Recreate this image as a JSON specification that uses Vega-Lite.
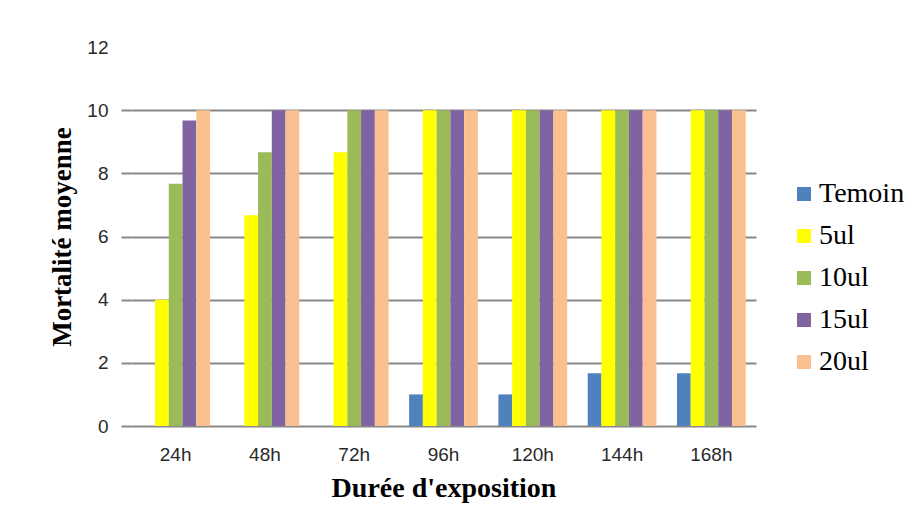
{
  "$schema": "https://vega.github.io/schema/vega-lite/v6.json",
  "width": 625,
  "height": 379,
  "autosize": {"type": "none"},
  "padding": {"left": 131, "top": 47, "right": 156, "bottom": 106},
  "background": "white",
  "data": {
    "values": [
      {"duree": "24h", "serie": "Temoin", "mortalite": 0},
      {"duree": "24h", "serie": "5ul", "mortalite": 4},
      {"duree": "24h", "serie": "10ul", "mortalite": 7.67},
      {"duree": "24h", "serie": "15ul", "mortalite": 9.67},
      {"duree": "24h", "serie": "20ul", "mortalite": 10},
      {"duree": "48h", "serie": "Temoin", "mortalite": 0},
      {"duree": "48h", "serie": "5ul", "mortalite": 6.67},
      {"duree": "48h", "serie": "10ul", "mortalite": 8.67},
      {"duree": "48h", "serie": "15ul", "mortalite": 10},
      {"duree": "48h", "serie": "20ul", "mortalite": 10},
      {"duree": "72h", "serie": "Temoin", "mortalite": 0},
      {"duree": "72h", "serie": "5ul", "mortalite": 8.67},
      {"duree": "72h", "serie": "10ul", "mortalite": 10},
      {"duree": "72h", "serie": "15ul", "mortalite": 10},
      {"duree": "72h", "serie": "20ul", "mortalite": 10},
      {"duree": "96h", "serie": "Temoin", "mortalite": 1},
      {"duree": "96h", "serie": "5ul", "mortalite": 10},
      {"duree": "96h", "serie": "10ul", "mortalite": 10},
      {"duree": "96h", "serie": "15ul", "mortalite": 10},
      {"duree": "96h", "serie": "20ul", "mortalite": 10},
      {"duree": "120h", "serie": "Temoin", "mortalite": 1},
      {"duree": "120h", "serie": "5ul", "mortalite": 10},
      {"duree": "120h", "serie": "10ul", "mortalite": 10},
      {"duree": "120h", "serie": "15ul", "mortalite": 10},
      {"duree": "120h", "serie": "20ul", "mortalite": 10},
      {"duree": "144h", "serie": "Temoin", "mortalite": 1.67},
      {"duree": "144h", "serie": "5ul", "mortalite": 10},
      {"duree": "144h", "serie": "10ul", "mortalite": 10},
      {"duree": "144h", "serie": "15ul", "mortalite": 10},
      {"duree": "144h", "serie": "20ul", "mortalite": 10},
      {"duree": "168h", "serie": "Temoin", "mortalite": 1.67},
      {"duree": "168h", "serie": "5ul", "mortalite": 10},
      {"duree": "168h", "serie": "10ul", "mortalite": 10},
      {"duree": "168h", "serie": "15ul", "mortalite": 10},
      {"duree": "168h", "serie": "20ul", "mortalite": 10}
    ]
  },
  "mark": {"type": "bar"},
  "encoding": {
    "x": {
      "field": "duree",
      "type": "nominal",
      "sort": ["24h", "48h", "72h", "96h", "120h", "144h", "168h"],
      "scale": {"paddingInner": 0.23, "paddingOuter": 0.115},
      "axis": {
        "title": "Durée d'exposition",
        "titleFont": "Liberation Serif",
        "titleFontSize": 28,
        "titleFontWeight": "bold",
        "titleColor": "#000000",
        "titlePadding": 10,
        "labelAngle": 0,
        "labelFont": "Liberation Sans",
        "labelFontSize": 19,
        "labelColor": "#2a2a2a",
        "labelPadding": 19,
        "domain": false,
        "ticks": false,
        "grid": false
      }
    },
    "xOffset": {
      "field": "serie",
      "type": "nominal",
      "sort": ["Temoin", "5ul", "10ul", "15ul", "20ul"],
      "scale": {"paddingInner": 0, "paddingOuter": 0}
    },
    "y": {
      "field": "mortalite",
      "type": "quantitative",
      "scale": {"domain": [0, 12], "nice": false},
      "axis": {
        "title": "Mortalité moyenne",
        "titleFont": "Liberation Serif",
        "titleFontSize": 27,
        "titleFontWeight": "bold",
        "titleColor": "#000000",
        "titlePadding": 10,
        "values": [0, 2, 4, 6, 8, 10, 12],
        "labelFont": "Liberation Sans",
        "labelFontSize": 19,
        "labelColor": "#2a2a2a",
        "labelPadding": 13,
        "domain": false,
        "ticks": true,
        "tickSize": 10,
        "tickColor": {"condition": {"test": "datum.value === 12", "value": "transparent"}, "value": "#888888"},
        "tickWidth": 2,
        "grid": true,
        "gridColor": {"condition": {"test": "datum.value === 12", "value": "transparent"}, "value": "#888888"},
        "gridWidth": 2
      }
    },
    "color": {
      "field": "serie",
      "type": "nominal",
      "sort": ["Temoin", "5ul", "10ul", "15ul", "20ul"],
      "scale": {
        "domain": ["Temoin", "5ul", "10ul", "15ul", "20ul"],
        "range": ["#4F81BD", "#FFFF00", "#9BBB59", "#8064A2", "#FAC090"]
      },
      "legend": {
        "title": null,
        "orient": "none",
        "legendX": 659,
        "legendY": 133,
        "padding": 0,
        "symbolType": "square",
        "symbolSize": 196,
        "symbolStrokeWidth": 0,
        "labelFont": "Liberation Serif",
        "labelFontSize": 28,
        "labelColor": "#000000",
        "labelOffset": 1,
        "rowPadding": 14
      }
    }
  },
  "config": {"view": {"stroke": null}}
}
